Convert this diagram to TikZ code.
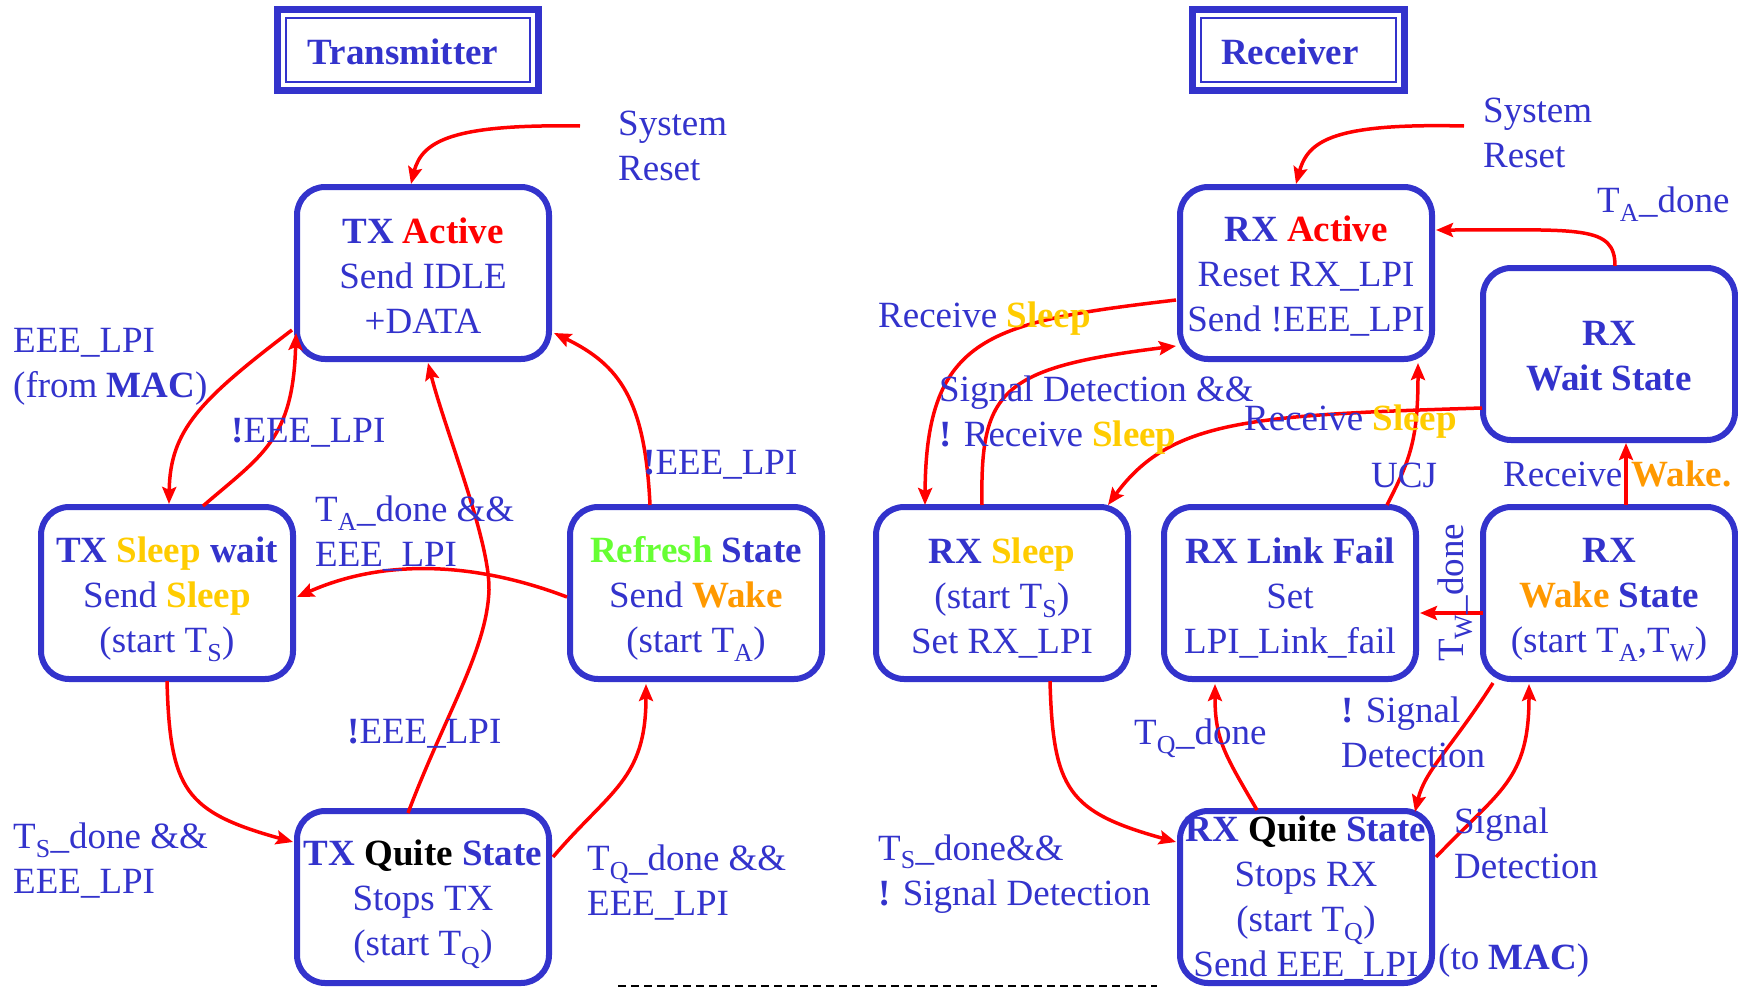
\documentclass[tikz,border=0pt]{standalone}
\usepackage{fontspec}
\setmainfont{Liberation Serif}
\usetikzlibrary{arrows.meta,calc}
\definecolor{myblue}{RGB}{51,51,204}
\definecolor{myyellow}{RGB}{255,204,0}
\definecolor{myorange}{RGB}{255,153,0}
\definecolor{mygreen}{RGB}{102,255,51}
\newcommand\fs{\fontsize{37}{45}\selectfont}
\newcommand\sub[1]{\textsubscript{#1}}
\begin{document}
\begin{tikzpicture}[x=1pt,y=-1pt,
  st/.style={draw=myblue, line width=6pt, rounded corners=28pt, minimum width=252pt,
    minimum height=172pt, inner sep=0pt},
  tx/.style={align=center, text=myblue, font=\fs, inner sep=0pt},
  titlebox/.style={draw=myblue, line width=7pt, minimum height=81pt, inner sep=0pt},
  titleinner/.style={draw=myblue, line width=2pt, minimum height=64pt, inner sep=0pt},
  arr/.style={draw=red, line width=3.5pt, -{Stealth[length=17pt,width=14pt,inset=3pt]}},
  lbl/.style={text=myblue, align=left, anchor=west, inner sep=0pt, font=\fs},
  dl/.style={draw=black, line width=2pt, dash pattern=on 8pt off 5pt},
]
\useasboundingbox (0,0) rectangle (1738,988);

% titles
\node[titlebox, minimum width=261pt] (ttx) at (408,50) {};
\node[titleinner, minimum width=244pt] (ttxi) at (408,50) {};
\node[text=myblue, font=\fs\bfseries, inner sep=0pt] (ttxt) at (403,52) {Transmitter};
\node[titlebox, minimum width=212pt] (trx) at (1298,50) {};
\node[titleinner, minimum width=195pt] (trxi) at (1298,50) {};
\node[text=myblue, font=\fs\bfseries, inner sep=0pt] (trxt) at (1290,52) {Receiver};

% transmitter states
\node[st] (txa) at (423,273) {};
\node[tx] (txaT) at ($(txa.center)+(0,3)$) {\textbf{TX \textcolor{red}{Active}}\\Send IDLE\\+DATA};
\node[st] (txs) at (167,593) {};
\node[tx] (txsT) at ($(txs.center)+(0,6)$) {\textbf{TX \textcolor{myyellow}{Sleep} wait}\\Send \textbf{\textcolor{myyellow}{Sleep}}\\(start T\sub{S})};
\node[st] (txr) at (696,593) {};
\node[tx] (txrT) at ($(txr.center)+(0,6)$) {\textbf{\textcolor{mygreen}{Refresh} State}\\Send \textbf{\textcolor{myorange}{Wake}}\\(start T\sub{A})};
\node[st] (txq) at (423,897) {};
\node[tx] (txqT) at ($(txq.center)+(0,7)$) {\textbf{TX \textcolor{black}{Quite} State}\\Stops TX\\(start T\sub{Q})};

% receiver states
\node[st] (rxa) at (1306,273) {};
\node[tx] (rxaT) at ($(rxa.center)+(0,3)$) {\textbf{RX \textcolor{red}{Active}}\\Reset RX\_LPI\\Send !EEE\_LPI};
\node[st] (rxw) at (1609,354) {};
\node[tx] (rxwT) at ($(rxw.center)+(0,2)$) {\textbf{RX}\\\textbf{Wait State}};
\node[st] (rxs) at (1002,593) {};
\node[tx] (rxsT) at ($(rxs.center)+(0,5)$) {\textbf{RX \textcolor{myyellow}{Sleep}}\\(start T\sub{S})\\Set RX\_LPI};
\node[st] (rxl) at (1290,593) {};
\node[tx] (rxlT) at ($(rxl.center)+(0,5)$) {\textbf{RX Link Fail}\\Set\\LPI\_Link\_fail};
\node[st] (rxk) at (1609,593) {};
\node[tx] (rxkT) at ($(rxk.center)+(0,7)$) {\textbf{RX}\\\textbf{\textcolor{myorange}{Wake} State}\\(start T\sub{A},T\sub{W})};
\node[st] (rxq) at (1306,897) {};
\node[tx] (rxqT) at ($(rxq.center)+(0,2)$) {\textbf{RX \textcolor{black}{Quite} State}\\Stops RX\\(start T\sub{Q})\\Send EEE\_LPI};

% free ends
\coordinate (sTX) at (580,126);
\coordinate (sRX) at (1464,126);
\coordinate (dA) at (618,986);
\coordinate (dB) at (1157,986);
\draw[dl] (dA) -- (dB);

% transmitter arrows
\draw[arr] (sTX) .. controls (455,124) and (422,140) .. ($(txa.center)+(-12,-89)$);
\draw[arr] ($(txa.center)+(-131,57)$) .. controls (200,400) and (170,430) .. ($(txs.center)+(2,-89)$);
\draw[arr] ($(txs.center)+(36,-87)$) .. controls (262,455) and (293,440) .. ($(txa.center)+(-127,60)$);
\draw[arr] ($(txq.center)+(-15,-84)$) .. controls (445,715) and (487,650) .. (489,590)
   .. controls (490,540) and (445,430) .. ($(txa.center)+(5,90)$);
\draw[arr] ($(txr.center)+(-46,-88)$) .. controls (645,400) and (620,365) .. ($(txa.center)+(131,60)$);
\draw[arr] ($(txr.center)+(-129,4)$) .. controls (470,560) and (380,560) .. ($(txs.center)+(130,4)$);
\draw[arr] ($(txs.center)+(0,88)$) .. controls (170,790) and (185,812) .. ($(txq.center)+(-130,-55)$);
\draw[arr] ($(txq.center)+(130,-40)$) .. controls (610,790) and (646,780) .. ($(txr.center)+(-50,91)$);

% receiver arrows
\draw[arr] (sRX) .. controls (1335,123) and (1308,140) .. ($(rxa.center)+(-10,-89)$);
\draw[arr] ($(rxw.center)+(6,-88)$) .. controls (1615,225) and (1580,230) .. ($(rxa.center)+(130,-43)$);
\draw[arr] ($(rxa.center)+(-130,27)$) .. controls (990,322) and (926,335) .. ($(rxs.center)+(-77,-88)$);
\draw[arr] ($(rxs.center)+(-20,-88)$) .. controls (980,390) and (1000,368) .. ($(rxa.center)+(-130,73)$);
\draw[arr] ($(rxw.center)+(-127,54)$) .. controls (1250,415) and (1170,420) .. ($(rxs.center)+(106,-88)$);
\draw[arr] ($(rxl.center)+(97,-88)$) .. controls (1410,460) and (1418,440) .. ($(rxa.center)+(112,90)$);
\draw[arr] ($(rxk.center)+(17,-88)$) -- ($(rxw.center)+(17,89)$);
\draw[arr] ($(rxk.center)+(-126,20)$) -- ($(rxl.center)+(130,20)$);
\draw[arr] ($(rxs.center)+(48,88)$) .. controls (1053,790) and (1068,812) .. ($(rxq.center)+(-130,-55)$);
\draw[arr] ($(rxq.center)+(-49,-87)$) .. controls (1225,755) and (1215,740) .. ($(rxl.center)+(-75,91)$);
\draw[arr] ($(rxk.center)+(-116,90)$) .. controls (1450,750) and (1425,770) .. ($(rxq.center)+(109,-85)$);
\draw[arr] ($(rxq.center)+(130,-40)$) .. controls (1500,790) and (1529,780) .. ($(rxk.center)+(-80,91)$);

% transmitter labels
\node[lbl] (l1) at (618,146) {System\\Reset};
\node[lbl] (l2) at (13,367) {EEE\_LPI\\(from \textbf{MAC})};
\node[lbl] (l3) at (231,433) {\textbf{!}EEE\_LPI};
\node[lbl] (l4) at (315,534) {T\sub{A}\_done \&\&\\EEE\_LPI};
\node[lbl] (l5) at (643,465) {\textbf{!}EEE\_LPI};
\node[lbl] (l6) at (347,734) {\textbf{!}EEE\_LPI};
\node[lbl] (l7) at (13,861) {T\sub{S}\_done \&\&\\EEE\_LPI};
\node[lbl] (l8) at (587,883) {T\sub{Q}\_done \&\&\\EEE\_LPI};

% receiver labels
\node[lbl] (r1) at (1483,133) {System\\Reset};
\node[lbl] (r2) at (1597,204) {T\sub{A}\_done};
\node[lbl] (r3) at (878,319) {Receive \textbf{\textcolor{myyellow}{Sleep}}};
\node[lbl] (r4) at (939,415) {Signal Detection \&\&\\\textbf{!} Receive \textbf{\textcolor{myyellow}{Sleep}}};
\node[lbl] (r5) at (1244,422) {Receive \textbf{\textcolor{myyellow}{Sleep}}};
\node[lbl] (r6) at (1371,475) {UCJ};
\node[lbl] (r7) at (1503,474) {Receive \textbf{\textcolor{myorange}{Wake.}}};
\node[text=myblue, font=\fs, inner sep=0pt, rotate=90] (r8) at (1455,593) {T\sub{W}\_done};
\node[lbl] (r9) at (1134,738) {T\sub{Q}\_done};
\node[lbl] (r10) at (1341,732) {\textbf{!} Signal\\Detection};
\node[lbl] (r11) at (1454,843) {Signal\\Detection};
\node[lbl] (r12) at (878,874) {T\sub{S}\_done\&\&\\\textbf{!} Signal Detection};
\node[lbl] (r13) at (1438,961) {(to \textbf{MAC})};
\end{tikzpicture}
\end{document}
